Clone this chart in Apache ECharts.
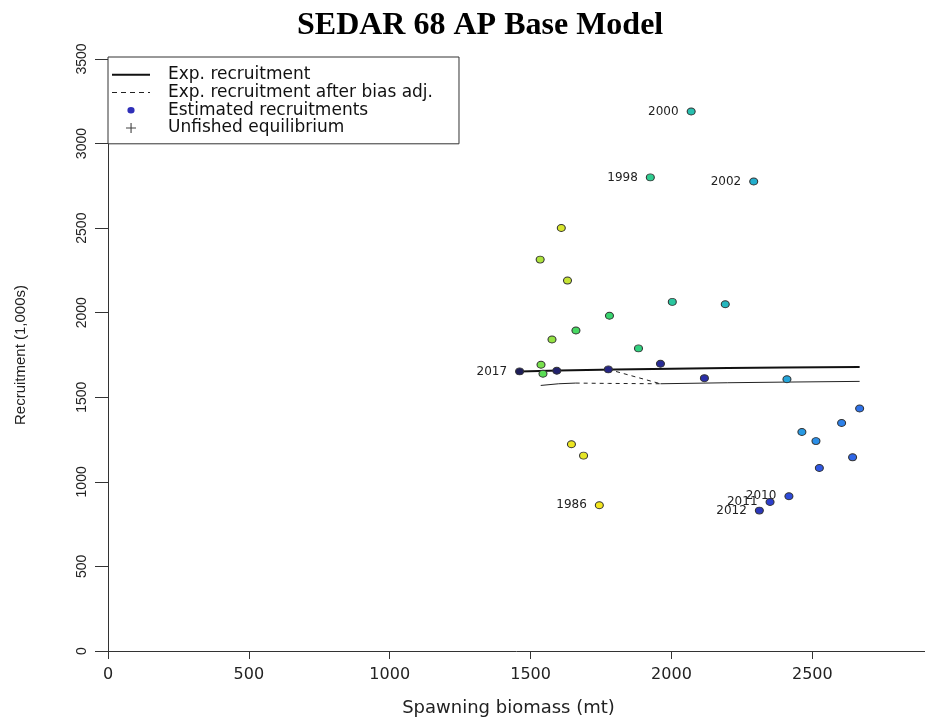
<!DOCTYPE html>
<html>
<head>
<meta charset="utf-8">
<script src="https://cdn.jsdelivr.net/npm/echarts@6/dist/echarts.min.js"></script>
<style>
html,body{margin:0;padding:0;background:#fff;}
#chart{width:925px;height:719px;}
</style>
</head>
<body>
<div id="chart"></div>
<script>
// ---- data ----
const years = [1986,1987,1988,1989,1990,1991,1992,1993,1994,1995,1996,1997,1998,1999,2000,2001,2002,2003,2004,2005,2006,2007,2008,2009,2010,2011,2012,2013,2014,2015,2016,2017];
const spawningBiomass = [1744,1645,1688,1609,1631,1534,1576,1537,1544,1661,1780,1883,1925,2003,2070,2191,2292,2410,2463,2513,2604,2668,2643,2525,2417,2350,2312,2117,1961,1776,1593,1461];
const recruitment = [862,1222,1155,2501,2190,2314,1842,1692,1639,1895,1982,1789,2800,2064,3190,2050,2776,1607,1295,1241,1348,1434,1145,1082,915,881,830,1613,1698,1665,1657,1653];
const labeledYears = [1986,1998,2000,2002,2010,2011,2012,2017];

const expCurveX = [1461,1600,1800,2000,2200,2400,2668];
const expCurveY = [1653,1658,1664,1669,1673,1676,1679];

const biasDashX = [1660,1776,1961];
const biasDashY = [1584,1582,1580];
const biasDiagX = [1776,1961];
const biasDiagY = [1665,1580];
const biasLeftX = [1536,1600,1660];
const biasLeftY = [1570,1580,1584];
const biasRightX = [1961,2200,2410,2668];
const biasRightY = [1580,1586,1590,1594];

const xTicks = [0,500,1000,1500,2000,2500];
const yTicks = [0,500,1000,1500,2000,2500,3000,3500];

const yearColors = ['#f4e61e','#e6e626','#c4e436','#8ee244','#52dc58','#34d474','#2cca96','#26bcb6','#22aad6','#2a94e8','#2f78ea','#2f5ce6','#2c40d0','#2a30aa','#262684','#1e1e58'];

const zip = (a,b) => a.map((v,i)=>[v,b[i]]);

const pts = years.map((y,i)=>{
  const item = {value:[spawningBiomass[i], recruitment[i], y]};
  if (labeledYears.includes(y)) {
    item.label = {show:true, formatter:String(y)};
  }
  return item;
});

const plain = v => String(v);
let dashPath = 'path://';
for (let s = 0; s < 38; s += 9) dashPath += 'M' + s + ',0L' + Math.min(s+5,38) + ',0L' + Math.min(s+5,38) + ',1L' + s + ',1Z ';
const dotPath = 'path://M0,0L0.01,0L0.01,0.01Z M10,10L10.01,10L10.01,10.01Z M8.6,5A3.6,3.2,0,1,1,1.4,5A3.6,3.2,0,1,1,8.6,5Z';
const plusPath = 'path://M0,4.5L10,4.5L10,5.6L0,5.6Z M4.5,0L5.6,0L5.6,10L4.5,10Z';

const chart = echarts.init(document.getElementById('chart'));
const option = {
  backgroundColor:'#fff',
  animation:false,
  title:{
    text:'SEDAR 68 AP Base Model',
    left:292, top:5,
    textStyle:{fontFamily:'Liberation Serif', fontWeight:'bold', fontSize:32, color:'#000'}
  },
  grid:{left:108, right:0, top:59, bottom:68, containLabel:false, outerBoundsMode:'none'},
  xAxis:{
    type:'value', min:0, max:2900,
    name:'Spawning biomass (mt)', nameLocation:'middle', nameGap:48,
    nameTextStyle:{fontFamily:'DejaVu Sans', fontSize:18, color:'#222', padding:[0,16,0,0]},
    axisLine:{show:true, onZero:false, lineStyle:{color:'#333', width:1}},
    axisTick:{show:true, length:8, customValues:xTicks, lineStyle:{color:'#333'}},
    axisLabel:{customValues:xTicks, formatter:plain, margin:16, fontFamily:'DejaVu Sans', fontSize:16, color:'#222'},
    splitLine:{show:false}
  },
  yAxis:{
    type:'value', min:0, max:3500, interval:500,
    name:'Recruitment (1,000s)', nameLocation:'middle', nameGap:80, nameRotate:90,
    nameTextStyle:{fontFamily:'Liberation Sans', fontSize:15, color:'#222'},
    axisLine:{show:true, onZero:false, lineStyle:{color:'#333', width:1}},
    axisTick:{show:true, length:13, lineStyle:{color:'#333'}},
    axisLabel:{rotate:90, formatter:plain, margin:19, fontFamily:'Liberation Sans', fontSize:14, color:'#222'},
    splitLine:{show:false}
  },
  visualMap:{
    show:false, type:'continuous', seriesIndex:5, dimension:2,
    min:1986, max:2017, inRange:{color:yearColors}
  },
  legend:{
    orient:'vertical', left:108, top:57,
    backgroundColor:'#fff', borderColor:'#333', borderWidth:1, borderRadius:0,
    padding:[9,26,7,4], itemGap:0, itemWidth:38, itemHeight:10,
    textStyle:{fontFamily:'DejaVu Sans', fontSize:17, color:'#111', lineHeight:17.7, padding:[0,0,0,13]},
    data:[
      {name:'Exp. recruitment', icon:'path://M0,0L38,0L38,2L0,2Z', itemStyle:{color:'#111'}},
      {name:'Exp. recruitment after bias adj.', icon:dashPath, itemStyle:{color:'#222'}},
      {name:'Estimated recruitments', icon:dotPath, itemStyle:{color:'#2f2fb8', borderWidth:0}},
      {name:'Unfished equilibrium', icon:plusPath, itemStyle:{color:'#111'}}
    ]
  },
  series:[
    {name:'Exp. recruitment', type:'line', symbol:'none', data:zip(expCurveX,expCurveY),
     lineStyle:{color:'#111', width:2}, itemStyle:{color:'#111'}, z:3},
    {name:'Exp. recruitment after bias adj.', type:'line', symbol:'none', data:zip(biasDashX,biasDashY),
     lineStyle:{color:'#222', width:1, type:[4,4]}, itemStyle:{color:'#222'}, z:3},
    {name:'Exp. recruitment after bias adj.', type:'line', symbol:'none', data:zip(biasDiagX,biasDiagY),
     lineStyle:{color:'#222', width:1, type:[4,4]}, itemStyle:{color:'#222'}, z:3},
    {name:'bias adj. left', type:'line', symbol:'none', data:zip(biasLeftX,biasLeftY),
     lineStyle:{color:'#222', width:1}, itemStyle:{color:'#222'}, z:3},
    {name:'bias adj. right', type:'line', symbol:'none', data:zip(biasRightX,biasRightY),
     lineStyle:{color:'#222', width:1}, itemStyle:{color:'#222'}, z:3},
    {name:'Estimated recruitments', type:'scatter', symbol:'circle', symbolSize:[8,7],
     data:pts, itemStyle:{color:'#2f2fb8', borderColor:'#333', borderWidth:1, opacity:1},
     label:{show:false, position:'left', distance:8, fontFamily:'DejaVu Sans', fontSize:12, color:'#222'},
     z:4},
    {name:'Unfished equilibrium', type:'scatter', data:[], itemStyle:{color:'#111'}}
  ]
};
chart.setOption(option);
</script>
</body>
</html>
